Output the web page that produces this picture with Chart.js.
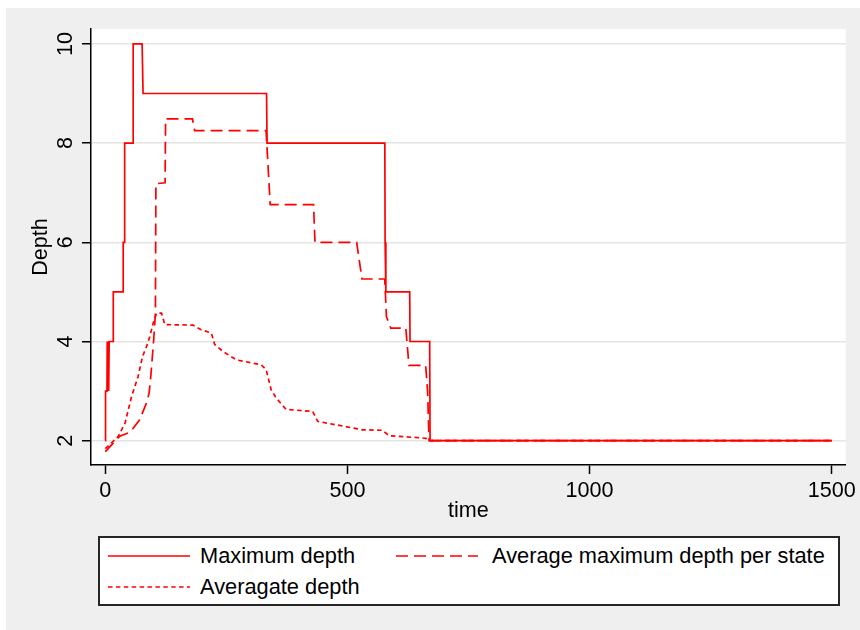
<!DOCTYPE html>
<html>
<head>
<meta charset="utf-8">
<script src="https://cdn.jsdelivr.net/npm/chart.js@4.4.1/dist/chart.umd.min.js"></script>
<style>
  html, body { margin: 0; padding: 0; background: #fff; }
  #frame { position: absolute; left: 6px; top: 8px; width: 854px; height: 622px; background: #efefef; }
  #wrap { position: absolute; left: 0; top: 0; width: 860px; height: 630px; }
  #legend {
    position: absolute; left: 98px; top: 536px; width: 738px; height: 66px;
    border: 2px solid #262626; background: #fff;
    font: 21.8px "Liberation Sans", Arial, sans-serif; color: #000;
  }
  #legend .item { position: absolute; height: 30px; line-height: 30px; white-space: nowrap; }
  #legend svg { position: absolute; left: 0; top: 0; }
  #legend span { position: absolute; top: 0; }
</style>
</head>
<body>
<div id="frame"></div>
<div id="wrap"><canvas id="depthChart" width="860" height="630"></canvas></div>
<div id="legend"></div>
<script>
// ticks
const xTicks = [0, 500, 1000, 1500];
const yTicks = [2, 4, 6, 8, 10];

const seriesNames = ['Maximum depth', 'Average maximum depth per state', 'Averagate depth'];

// Maximum depth (solid)
const maxDepthT = [0, 0.5, 3.5, 4, 5, 6, 7, 8, 16.5, 16.5, 37, 37, 40, 40, 57.6, 57.6, 76, 78, 333, 334, 577.2, 577.8, 579.3, 628.6, 629.2, 669.8, 670.6, 1500];
const maxDepthV = [2, 3, 3, 4, 3, 4, 3, 4, 4, 5, 5, 6, 6, 8, 8, 10, 10, 9, 9, 8, 8, 6, 5, 5, 4, 4, 2, 2];

// Average maximum depth per state (dashed)
const avgMaxT = [0, 30, 51, 71, 85, 90.5, 94, 100, 103.5, 104.5, 123.5, 124.5, 180, 184.5, 332, 340.5, 430, 433, 519, 530, 577, 580.5, 589.5, 620.5, 627, 661.5, 665.5, 668.5, 1500];
const avgMaxV = [1.78, 2.09, 2.17, 2.42, 2.76, 2.96, 3.30, 4.04, 4.57, 7.18, 7.2, 8.49, 8.49, 8.25, 8.25, 6.76, 6.76, 6.0, 6.0, 5.26, 5.26, 4.5, 4.27, 4.27, 3.52, 3.52, 3.0, 2.0, 2.0];

// Averagate depth (dotted)
const avgDepthT = [0, 16.5, 26.8, 40.6, 54.3, 67.9, 77, 85.2, 92, 98.8, 105.8, 116.1, 122.9, 181, 197, 219, 225.8, 242.9, 270.5, 321.9, 332.2, 342.5, 352.8, 373.4, 428.2, 438.5, 476.3, 531.1, 572.3, 586, 661.6, 668.4, 1500];
const avgDepthV = [1.84, 1.99, 2.09, 2.35, 2.89, 3.30, 3.70, 3.90, 4.10, 4.37, 4.57, 4.57, 4.34, 4.33, 4.24, 4.17, 3.94, 3.80, 3.63, 3.53, 3.43, 3.03, 2.86, 2.63, 2.59, 2.39, 2.32, 2.22, 2.21, 2.10, 2.05, 2.0, 2.0];

const RED = '#ff0000';
const dashes = [[], [12, 6], [4.5, 3.4]];
const FONT = { family: '"Liberation Sans", Arial, sans-serif', size: 21.6 };

const toXY = (t, v) => t.map((x, i) => ({ x, y: v[i] }));

// fond blanc de la zone de tracé
const plotBg = {
  id: 'plotBg',
  beforeDraw(chart) {
    const { ctx, chartArea: a } = chart;
    ctx.save();
    ctx.fillStyle = '#fff';
    ctx.fillRect(a.left, a.top, a.right - a.left, a.bottom - a.top);
    ctx.restore();
  }
};

function lineDs(label, data, dash) {
  return {
    label, data,
    borderColor: RED, borderWidth: 1.7, borderDash: dash,
    pointRadius: 0, fill: false, tension: 0
  };
}

new Chart(document.getElementById('depthChart'), {
  type: 'line',
  data: {
    datasets: [
      lineDs(seriesNames[0], toXY(maxDepthT, maxDepthV), dashes[0]),
      lineDs(seriesNames[1], toXY(avgMaxT, avgMaxV), dashes[1]),
      lineDs(seriesNames[2], toXY(avgDepthT, avgDepthV), dashes[2])
    ]
  },
  options: {
    responsive: false,
    animation: false,
    events: [],
    layout: { padding: { left: 0, top: 29, right: 12, bottom: 106 } },
    plugins: { legend: { display: false }, tooltip: { enabled: false } },
    scales: {
      x: {
        type: 'linear', min: -29.5, max: 1529,
        afterBuildTicks: s => { s.ticks = xTicks.map(v => ({ value: v })); },
        afterFit: s => { s.height = 59; },
        grid: { drawOnChartArea: false, tickLength: 9, tickColor: '#000', tickWidth: 1.5 },
        border: { color: '#000', width: 1.5 },
        ticks: { font: FONT, color: '#000', padding: 4, maxRotation: 0, callback: v => String(v) },
        title: { display: true, text: 'time', font: FONT, color: '#000', padding: 0 }
      },
      y: {
        type: 'linear', min: 1.51, max: 10.3,
        afterBuildTicks: s => { s.ticks = yTicks.map(v => ({ value: v })); },
        afterFit: s => { s.width = 91; },
        grid: { color: '#e4e4e4', lineWidth: 1.5, tickLength: 9, tickColor: '#000', tickWidth: 1.5 },
        border: { color: '#000', width: 1.5 },
        ticks: { font: FONT, color: '#000', padding: 4, minRotation: 90, maxRotation: 90, crossAlign: 'center', callback: v => String(v) },
        title: { display: true, text: 'Depth', font: FONT, color: '#000', padding: { top: 28, bottom: 0 } }
      }
    }
  },
  plugins: [plotBg]
});

// légende (2 colonnes, comme l'original)
const legendPos = [
  { left: 8, top: 3, text: 100 },
  { left: 296, top: 3, text: 392 },
  { left: 8, top: 34, text: 100 }
];
const legend = document.getElementById('legend');
seriesNames.forEach((name, i) => {
  const p = legendPos[i];
  const item = document.createElement('div');
  item.className = 'item';
  item.style.left = '0px';
  item.style.top = p.top + 'px';
  item.style.width = '730px';
  const d = dashes[i].length ? `stroke-dasharray="${dashes[i].join(' ')}"` : '';
  item.innerHTML =
    `<svg width="84" height="30" style="left:${p.left}px"><line x1="0" y1="15" x2="82" y2="15" stroke="${RED}" stroke-width="1.7" ${d}/></svg>` +
    `<span style="left:${p.text}px">${name}</span>`;
  legend.appendChild(item);
});
</script>
</body>
</html>
